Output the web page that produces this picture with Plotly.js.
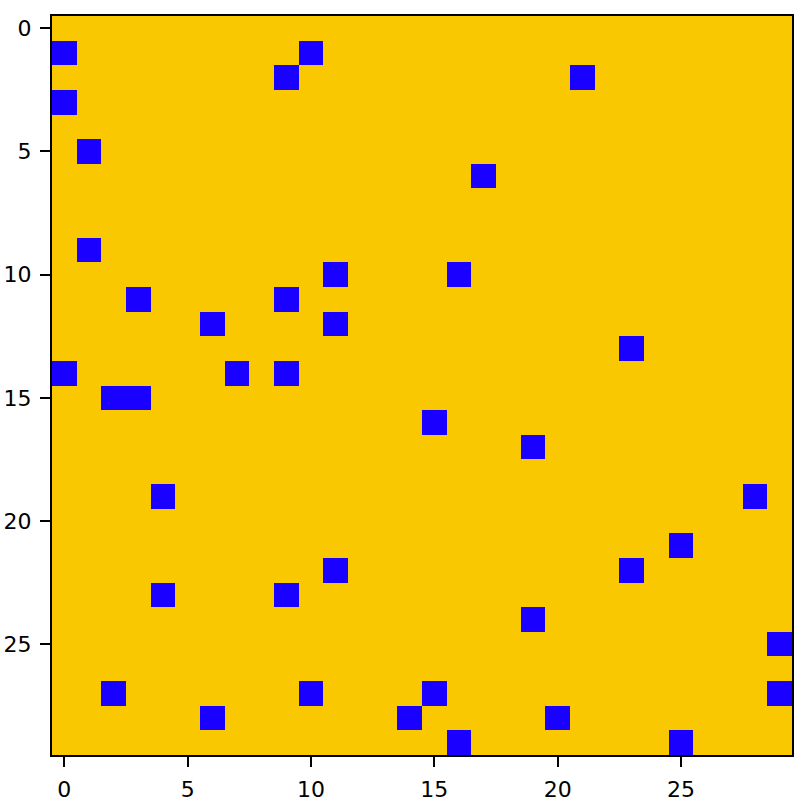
<!DOCTYPE html>
<html>
<head>
<meta charset="utf-8">
<script src="https://cdn.plot.ly/plotly-3.0.1.min.js"></script>
<style>html,body{margin:0;padding:0;background:#fff;}#chart{width:812px;height:810px;}</style>
</head>
<body>
<div id="chart"></div>
<script>
const nRows = 30;
const nCols = 30;
// blue cells: row index and column index
const blueRows = [1, 1, 2, 2, 3, 5, 6, 9, 10, 10, 11, 11, 12, 12, 13, 14, 14, 14, 15, 15, 16, 17, 19, 19, 21, 22, 22, 23, 23, 24, 25, 27, 27, 27, 27, 28, 28, 28, 29, 29];
const blueCols = [0, 10, 9, 21, 0, 1, 17, 1, 11, 16, 3, 9, 6, 11, 23, 0, 7, 9, 2, 3, 15, 19, 4, 28, 25, 11, 23, 4, 9, 19, 29, 2, 10, 15, 29, 6, 14, 20, 16, 25];
const tickVals = [0, 5, 10, 15, 20, 25];

const z = [];
for (let r = 0; r < nRows; r++) { z.push(new Array(nCols).fill(0)); }
for (let i = 0; i < blueRows.length; i++) { z[blueRows[i]][blueCols[i]] = 1; }

const trace = {
  type: 'heatmap',
  z: z,
  x: Array.from({length: nCols}, (_, i) => i),
  y: Array.from({length: nRows}, (_, i) => i),
  colorscale: [[0, '#FAC800'], [1, '#1A00FF']],
  zmin: 0, zmax: 1,
  showscale: false,
  hoverinfo: 'none'
};

const axisCommon = {
  showgrid: false, zeroline: false,
  showline: true, linecolor: '#000', linewidth: 2, mirror: true,
  ticks: 'outside', ticklen: 10, tickwidth: 2, tickcolor: '#000',
  tickvals: tickVals, ticktext: tickVals.map(String),
  tickfont: {family: 'DejaVu Sans', size: 22, color: '#000'}
};

const layout = {
  width: 812, height: 810,
  margin: {l: 52, r: 20, t: 16, b: 55},
  paper_bgcolor: '#fff', plot_bgcolor: '#fff',
  xaxis: Object.assign({}, axisCommon, {range: [-0.5, 29.5], ticklabelstandoff: 4}),
  yaxis: Object.assign({}, axisCommon, {range: [29.5, -0.5], ticklabelstandoff: 4}),
  showlegend: false
};

Plotly.newPlot('chart', [trace], layout, {displayModeBar: false, staticPlot: true});
</script>
</body>
</html>
